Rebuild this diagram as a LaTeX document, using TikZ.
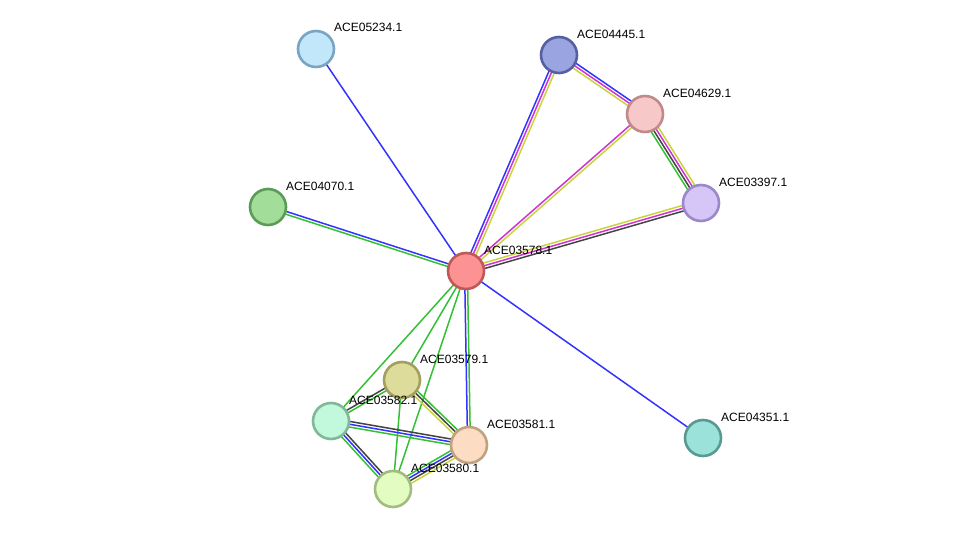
\documentclass[tikz,border=0pt]{standalone}
\usepackage{fontspec}
\setmainfont{Liberation Sans}
\usetikzlibrary{calc}
\pgfdeclarelayer{bg}
\pgfsetlayers{bg,main}
\definecolor{eblue}{HTML}{3333FF}
\definecolor{emag}{HTML}{D033D0}
\definecolor{eyel}{HTML}{C8D43C}
\definecolor{egreen}{HTML}{33C033}
\definecolor{egray}{HTML}{444444}
\tikzset{
  prot/.style={circle, minimum size=36pt, inner sep=0pt, line width=2.6pt},
  lbl/.style={anchor=base west, inner sep=0pt, font=\fontsize{12}{13}\selectfont},
  edge/.style={line width=1.5pt},
}
\newcommand\multiedge[4]{%
  \foreach \c [count=\i] in {#4} {%
    \pgfmathsetmacro\off{(\i-(#3+1)/2)*2.8}%
    \draw[edge, \c] ($(#1)!\off pt!90:(#2)$) -- ($(#2)!\off pt!-90:(#1)$);
  }%
}
\newcommand\protnode[5]{%
  \definecolor{fill#1}{HTML}{#4}%
  \definecolor{line#1}{HTML}{#5}%
  \node[prot, fill=fill#1, draw=line#1] (#1) at (#2,#3) {};
  \node[lbl] (l#1) at (#2+18,#3-17) {ACE#1.1};
}
\begin{document}
\begin{tikzpicture}[x=1pt, y=-1pt]
\useasboundingbox (0,0) rectangle (976,535);
\protnode{05234}{316}{49}{C2E6FA}{7AA4C2}
\protnode{04445}{559}{55}{9AA4E0}{5560A2}
\protnode{04629}{645}{114}{F6C8C8}{C08A8A}
\protnode{03397}{701}{203}{D6C6F8}{9A88C8}
\protnode{04070}{268}{207}{A2DE9A}{5C9A58}
\protnode{03578}{466}{271}{FC9292}{C05858}
\protnode{03579}{402}{380}{DEDC9A}{A2A060}
\protnode{03582}{331}{421}{C2F8DC}{80B898}
\protnode{03581}{469}{445}{FCDCC2}{C0A282}
\protnode{03580}{393}{489}{E2FCC2}{A2BC80}
\protnode{04351}{703}{438}{9AE2DA}{589A92}
\begin{pgfonlayer}{bg}
\multiedge{03578}{05234}{1}{eblue}
\multiedge{03578}{04351}{1}{eblue}
\multiedge{03578}{04070}{2}{eblue,egreen}
\multiedge{03578}{04445}{3}{eyel,emag,eblue}
\multiedge{04445}{04629}{3}{eyel,emag,eblue}
\multiedge{03578}{04629}{2}{eyel,emag}
\multiedge{03578}{03397}{3}{egray,emag,eyel}
\multiedge{04629}{03397}{4}{egreen,egray,emag,eyel}
\multiedge{03578}{03581}{2}{eblue,egreen}
\multiedge{03578}{03582}{1}{egreen}
\multiedge{03578}{03579}{1}{egreen}
\multiedge{03578}{03580}{1}{egreen}
\multiedge{03579}{03580}{1}{egreen}
\multiedge{03579}{03582}{2}{egray,egreen}
\multiedge{03579}{03581}{3}{eyel,egray,egreen}
\multiedge{03582}{03581}{3}{egreen,eblue,egray}
\multiedge{03582}{03580}{3}{egreen,eblue,egray}
\multiedge{03580}{03581}{4}{eyel,egray,eblue,egreen}
\end{pgfonlayer}
\end{tikzpicture}
\end{document}
